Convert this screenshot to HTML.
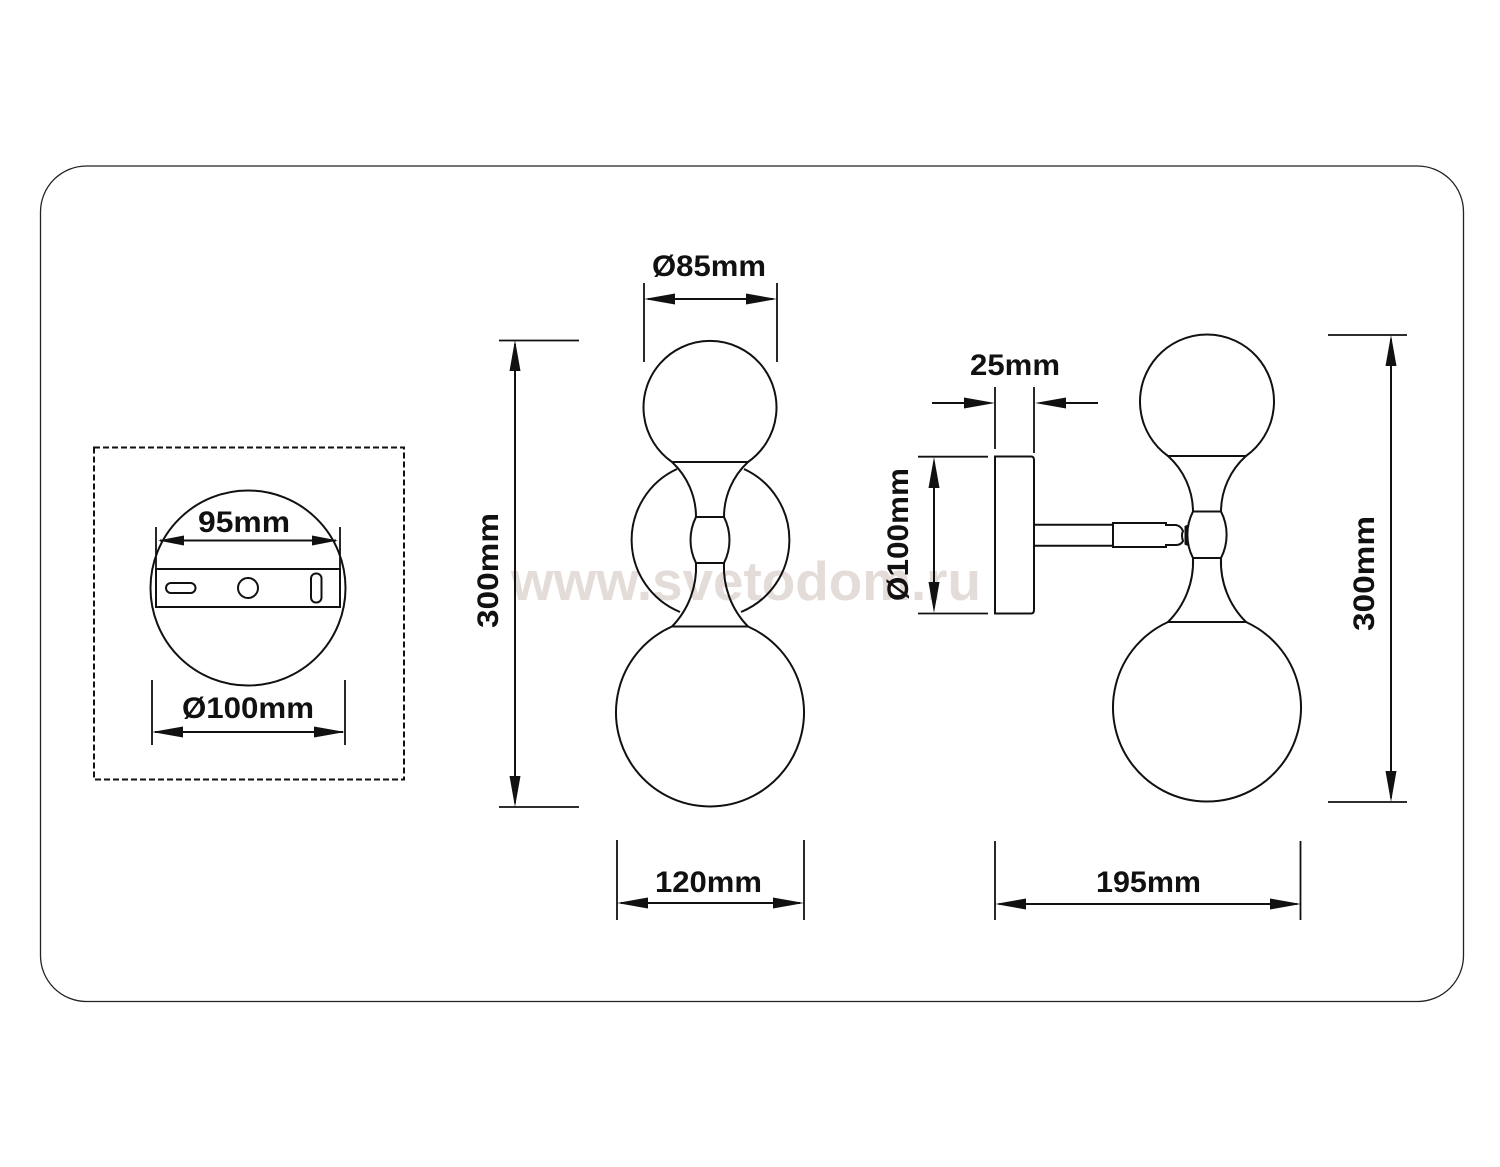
<!DOCTYPE html>
<html><head><meta charset="utf-8"><style>
html,body{margin:0;padding:0;background:#fff}
svg{display:block}
text{font-family:"Liberation Sans",sans-serif;font-weight:bold;font-size:30px;fill:#111}
.l{fill:none;stroke:#111;stroke-width:2}
.t{fill:none;stroke:#111;stroke-width:1.8}
</style></head><body>
<svg width="1500" height="1167" viewBox="0 0 1500 1167" xmlns="http://www.w3.org/2000/svg">
<defs>
<g id="a"><path d="M0 0L31 -5.500L31 5.500Z" fill="#111"/></g>
<g id="b"><path d="M0 0L26 -5L26 5Z" fill="#111"/></g>
</defs>
<!-- watermark -->
<text x="511" y="600" textLength="470" lengthAdjust="spacingAndGlyphs" style="font-size:55px;fill:#e4dcd8">www.svetodom.ru</text>

<rect x="40.500" y="166" width="1423" height="835.500" rx="46" fill="none" stroke="#222" stroke-width="1.3"/>
<rect x="94" y="447.500" width="310" height="332" fill="none" stroke="#111" stroke-width="2" stroke-dasharray="6 3"/>

<!-- mount -->
<circle cx="248" cy="588" r="97.500" class="l"/>
<rect x="156" y="569" width="184" height="38" fill="#fff" class="l"/>
<rect x="166" y="583" width="29.500" height="10" rx="5" class="l"/>
<circle cx="248" cy="588" r="10" class="l"/>
<rect x="311" y="573.500" width="10.500" height="29" rx="5" class="l"/>
<path class="t" d="M156 527V570M340 527V570M152 680V745M345 680V745"/>
<path class="l" d="M160 540.500H336M155 732H343"/>
<use href="#b" transform="translate(158 540.500)"/><use href="#b" transform="translate(338 540.500) rotate(180)"/>
<use href="#a" transform="translate(152 732)"/><use href="#a" transform="translate(345 732) rotate(180)"/>
<text x="198" y="532" textLength="92" lengthAdjust="spacingAndGlyphs">95mm</text>
<text x="182" y="718" textLength="132" lengthAdjust="spacingAndGlyphs">Ø100mm</text>

<!-- front lamp -->
<path class="l" d="M677 469A78 78 0 0 0 680 612M744 469A78 78 0 0 1 741 612"/>
<path class="l" d="M672 462A66.500 66.500 0 1 1 748 462Z"/>
<path class="l" d="M672 462A75 75 0 0 1 696 517H724A75 75 0 0 1 748 462"/>
<path class="l" d="M696 517A51 51 0 0 0 696 563H724A51 51 0 0 0 724 517"/>
<path class="l" d="M696 563A85 85 0 0 1 672 626.500H748A85 85 0 0 1 724 563"/>
<path class="l" d="M672 626.500A94 94 0 1 0 748 626.500"/>
<path class="t" d="M644 283V362M777 283V362M617 840V920M804 840V920M499 340.500H579M499 807H579"/>
<path class="l" d="M648 299H773M621 903H800M515 344V803"/>
<use href="#a" transform="translate(644 299)"/><use href="#a" transform="translate(777 299) rotate(180)"/>
<use href="#a" transform="translate(617 903)"/><use href="#a" transform="translate(804 903) rotate(180)"/>
<use href="#a" transform="translate(515 340) rotate(90)"/><use href="#a" transform="translate(515 807) rotate(-90)"/>
<text x="652" y="276" textLength="114" lengthAdjust="spacingAndGlyphs">Ø85mm</text>
<text x="655" y="892" textLength="107" lengthAdjust="spacingAndGlyphs">120mm</text>
<text transform="translate(498 628) rotate(-90)" textLength="115" lengthAdjust="spacingAndGlyphs">300mm</text>

<!-- side lamp -->
<path class="l" d="M995 456.500H1031Q1034 456.500 1034 460V610Q1034 613.500 1031 613.500H995Z"/>
<path class="l" d="M1034 524.700H1113M1034 545.700H1113"/>
<path class="l" d="M1113 523H1166V525H1176Q1181 526 1183 531Q1181 535 1183 541Q1181 545 1176 545H1166V547H1113Z"/>
<path d="M1184.500 526L1188 524.500V546L1184.500 544.500Z" fill="#111"/>
<path class="l" d="M1168 456A67 67 0 1 1 1246 456Z"/>
<path class="l" d="M1168 456A75 75 0 0 1 1193 511.500H1221A75 75 0 0 1 1246 456"/>
<path class="l" d="M1193 511.500A51 51 0 0 0 1193 558H1221A51 51 0 0 0 1221 511.500"/>
<path class="l" d="M1193 558A85 85 0 0 1 1168 622H1246A85 85 0 0 1 1221 558"/>
<path class="l" d="M1168 622A94 94 0 1 0 1246 622"/>
<path class="t" d="M995 387V449M1034 387V453M918 456.700H988M918 613.500H988M995 841V920M1300.500 841V920M1328 335H1407M1328 802H1407"/>
<path class="l" d="M932 403H975M1055 403H1098M934 462V608M999 904H1297M1391 339V798"/>
<use href="#a" transform="translate(995 403) rotate(180)"/><use href="#a" transform="translate(1035 403)"/>
<use href="#a" transform="translate(934 457) rotate(90)"/><use href="#a" transform="translate(934 613) rotate(-90)"/>
<use href="#a" transform="translate(995 904)"/><use href="#a" transform="translate(1301 904) rotate(180)"/>
<use href="#a" transform="translate(1391 335) rotate(90)"/><use href="#a" transform="translate(1391 802) rotate(-90)"/>
<text x="970" y="375" textLength="90" lengthAdjust="spacingAndGlyphs">25mm</text>
<text x="1096" y="892" textLength="105" lengthAdjust="spacingAndGlyphs">195mm</text>
<text transform="translate(908 601) rotate(-90)" textLength="133" lengthAdjust="spacingAndGlyphs">Ø100mm</text>
<text transform="translate(1374 631) rotate(-90)" textLength="115" lengthAdjust="spacingAndGlyphs">300mm</text>
</svg>
</body></html>
